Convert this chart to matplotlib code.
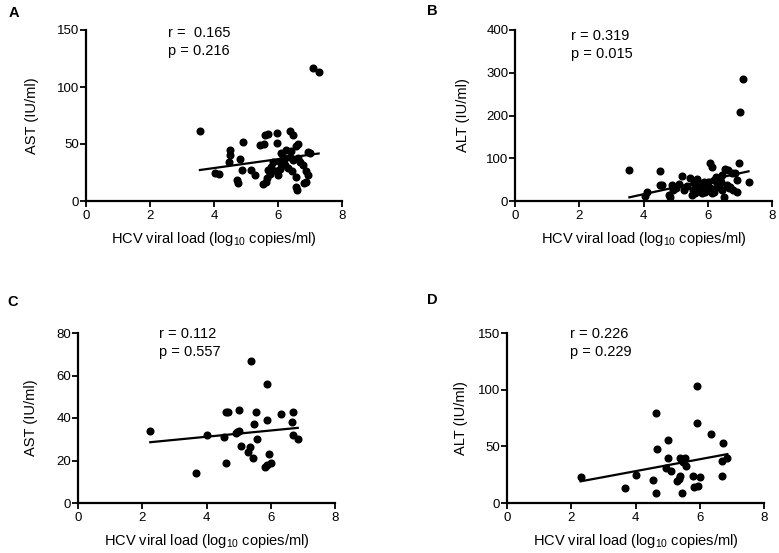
import numpy as np
import matplotlib
matplotlib.use('Agg')
import matplotlib.pyplot as plt

plt.rcParams['font.family'] = ['Liberation Sans', 'DejaVu Sans']
plt.rcParams['mathtext.fontset'] = 'custom'
plt.rcParams['mathtext.rm'] = 'Liberation Sans'

# panel A: AST vs viral load (n=58)
a_x = [3.56, 4.91, 4.51, 4.49, 4.47, 4.80, 4.02, 4.16, 4.86, 4.72, 4.75, 5.17, 5.27,
       5.58, 5.69, 5.45, 5.55, 5.97, 5.97, 5.64, 5.66, 5.79, 5.74, 5.93, 6.00, 6.10,
       6.16, 6.05, 6.21, 6.36, 6.47, 6.57, 6.62, 6.36, 6.47, 6.31, 6.62, 6.68, 6.78,
       6.94, 7.00, 6.89, 6.94, 6.55, 6.57, 6.60, 6.80, 6.89, 7.08, 7.27,
       6.25, 6.40, 6.20, 5.85, 6.05, 5.70, 6.45, 5.52]
a_y = [61, 52, 45, 40, 34.5, 37, 25, 24, 27, 18.5, 15.5, 27, 23,
       58, 59, 49, 50, 60, 51, 17, 20, 30, 24, 26, 23, 42,
       39, 34.5, 31.5, 61, 58, 48, 50, 39, 36, 29, 38, 34.5, 31.5,
       43, 42, 26, 23, 21, 12.5, 10, 16, 17, 117, 113,
       45, 44, 36, 34, 28, 27, 26, 15]
fit_a = [3.9, 13.3]

# panel B: ALT vs viral load (n=58)
b_x = [3.56, 4.50, 4.12, 4.05, 4.52, 4.57, 4.88, 4.78, 4.83, 4.93, 5.20, 5.25, 5.46,
       5.58, 5.66, 5.54, 5.61, 5.77, 5.82, 5.87, 6.08, 6.13, 6.00, 6.05, 6.20, 6.13,
       6.29, 6.34, 6.44, 6.50, 6.55, 6.62, 6.75, 6.86, 6.96, 6.70, 6.80, 6.91, 7.27,
       6.39, 7.09, 6.99,
       5.00, 5.10, 5.35, 5.70, 5.90, 5.95, 6.15, 6.25, 6.40, 6.60, 6.65, 6.45, 5.50,
       5.80, 6.90, 6.20]
b_y = [72, 71, 22, 12, 37, 37, 37, 14, 10, 26, 58, 26, 53,
       43, 51, 26, 18, 33, 18, 45, 88, 80, 44, 33, 48, 18,
       41, 33, 26, 10, 76, 72, 65, 66, 90, 33, 26, 22, 45,
       51, 286, 208,
       30, 40, 35, 28, 22, 38, 28, 55, 45, 38, 30, 60, 15,
       40, 48, 20]
fit_b = [16.4, -49.8]

# panel C: AST vs viral load (n=30)
c_x = [2.25, 3.66, 4.00, 4.54, 4.62, 4.68, 4.62, 5.01, 4.96, 5.02, 5.07, 5.40, 5.30,
       5.35, 5.45, 5.48, 5.53, 5.56, 5.87, 5.89, 5.82, 5.87, 5.95, 6.00, 6.32, 6.67,
       6.70, 6.68, 6.84, 4.92]
c_y = [34, 14, 32, 31, 43, 43, 19, 44, 33.5, 34, 27, 67, 24,
       26.5, 21, 37, 43, 30, 56, 39, 17, 18, 23, 19, 42, 38,
       43, 32, 30, 33]
fit_c = [1.47, 25.3]

# panel D: ALT vs viral load (n=30)
d_x = [2.29, 3.67, 4.03, 4.55, 4.65, 4.68, 4.63, 5.02, 5.02, 4.95, 5.09, 5.30, 5.34,
       5.38, 5.40, 5.54, 5.49, 5.57, 5.46, 5.90, 5.92, 5.80, 5.82, 5.95, 6.00, 6.34,
       6.73, 6.68, 6.86, 6.70]
d_y = [23, 13, 25, 20, 79, 48, 9, 56, 40, 31, 28, 19, 21,
       24, 40, 40, 36, 33, 9, 103, 71, 24, 14, 15, 23, 61,
       53, 37, 40, 24]
fit_d = [5.26, 7.05]

panels = [
    ('A', a_x, a_y, fit_a, 'AST (IU/ml)', [0, 50, 100, 150], 'r =  0.165', 'p = 0.216',
     [86, 201, 256, 171], 0.32, [0.985, 0.875], -0.184, (9, 13)),
    ('B', b_x, b_y, fit_b, 'ALT (IU/ml)', [0, 100, 200, 300, 400], 'r = 0.319', 'p = 0.015',
     [515, 201, 257, 171], 0.218, [0.967, 0.86], -0.175, (427, 11)),
    ('C', c_x, c_y, fit_c, 'AST (IU/ml)', [0, 20, 40, 60, 80], 'r = 0.112', 'p = 0.557',
     [78, 503, 257, 170], 0.315, [0.996, 0.888], -0.156, (7, 302)),
    ('D', d_x, d_y, fit_d, 'ALT (IU/ml)', [0, 50, 100, 150], 'r = 0.226', 'p = 0.229',
     [507, 503, 257, 170], 0.244, [0.996, 0.888], -0.153, (427, 300)),
]

W, H = 779, 553
fig = plt.figure(figsize=(W / 100, H / 100), dpi=100)

for letter, xs, ys, fit, ylab, yt, rtxt, ptxt, box, tx, ty, ylx, lpos in panels:
    left, bottom, w, h = box
    ax = fig.add_axes([left / W, 1 - bottom / H, w / W, h / H])
    ax.plot(xs, ys, 'o', color='black', ms=4.8, clip_on=False, zorder=3)
    lx = np.array([min(xs), max(xs)])
    ax.plot(lx, fit[0] * lx + fit[1], color='black', lw=1.6, zorder=4)
    ax.set_xlim(0, 8)
    ax.set_ylim(yt[0], yt[-1])
    ax.set_xticks([0, 2, 4, 6, 8])
    ax.set_yticks(yt)
    for s in ['top', 'right']:
        ax.spines[s].set_visible(False)
    for s in ['left', 'bottom']:
        ax.spines[s].set_linewidth(1.6)
    ax.tick_params(axis='both', length=4.3, width=1.3, labelsize=9.5, colors='black')
    ax.tick_params(axis='y', pad=0.5)
    ax.tick_params(axis='x', pad=2.5)
    ax.set_ylabel(ylab, fontsize=10.5)
    ax.yaxis.set_label_coords(ylx, 0.5)
    ax.set_xlabel(r'HCV viral load (log$_\mathregular{10}$ copies/ml)', fontsize=10.5)
    ax.xaxis.set_label_coords(0.5, -0.17)
    ax.text(tx, ty[0], rtxt, transform=ax.transAxes, fontsize=10.5, va='center', ha='left')
    ax.text(tx, ty[1], ptxt, transform=ax.transAxes, fontsize=10.5, va='center', ha='left')
    fig.text(lpos[0] / W, 1 - lpos[1] / H, letter, fontsize=10.5, fontweight='bold',
             va='center', ha='left')

fig.savefig('out.png', dpi=100)
